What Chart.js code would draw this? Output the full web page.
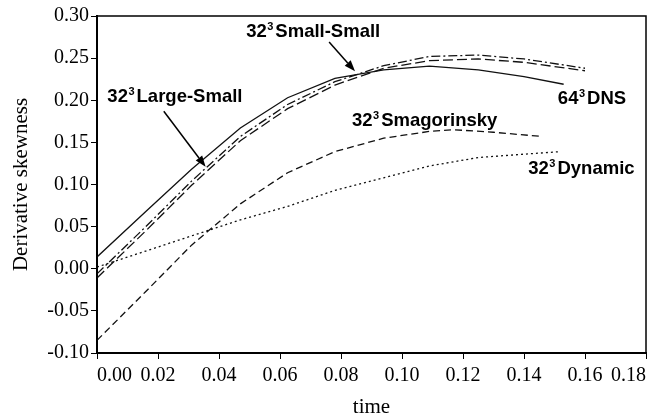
<!DOCTYPE html>
<html>
<head>
<meta charset="utf-8">
<script src="https://cdn.jsdelivr.net/npm/chart.js@4.4.0/dist/chart.umd.min.js"></script>
<style>
  html, body { margin: 0; padding: 0; background: #fff; }
</style>
</head>
<body>
<canvas id="chart" width="651" height="418"></canvas>
<script>
// === DATA ===
const dnsTime = [0, 0.016, 0.031, 0.047, 0.0625, 0.078, 0.094, 0.109, 0.125, 0.14, 0.153];
const dnsSkew = [0.014, 0.068, 0.118, 0.167, 0.203, 0.226, 0.236, 0.2405, 0.236, 0.228, 0.219];

const smallSmallTime = [0, 0.016, 0.031, 0.047, 0.0625, 0.078, 0.094, 0.109, 0.125, 0.14, 0.16];
const smallSmallSkew = [-0.006, 0.05, 0.104, 0.157, 0.195, 0.222, 0.241, 0.252, 0.2536, 0.249, 0.238];

const largeSmallTime = [0, 0.016, 0.031, 0.047, 0.0625, 0.078, 0.094, 0.109, 0.125, 0.14, 0.16];
const largeSmallSkew = [-0.011, 0.045, 0.099, 0.152, 0.19, 0.218, 0.238, 0.247, 0.249, 0.245, 0.235];

const smagTime = [0, 0.016, 0.031, 0.047, 0.0625, 0.078, 0.094, 0.109, 0.117, 0.13, 0.146];
const smagSkew = [-0.085, -0.027, 0.028, 0.077, 0.114, 0.139, 0.155, 0.163, 0.165, 0.162, 0.157];

const dynTime = [0, 0.016, 0.031, 0.047, 0.0625, 0.078, 0.094, 0.109, 0.125, 0.14, 0.152];
const dynSkew = [0.002, 0.021, 0.039, 0.058, 0.074, 0.093, 0.108, 0.122, 0.132, 0.136, 0.139];

const xTickLabels = ["0.00", "0.02", "0.04", "0.06", "0.08", "0.10", "0.12", "0.14", "0.16", "0.18"];

// === ANNOTATIONS (positions in data units) ===
const notes = [
  { base: "32", sup: "3", text: "Small-Small", t: 0.0489, v: 0.275 },
  { base: "32", sup: "3", text: "Large-Small", t: 0.0034, v: 0.1976 },
  { base: "64", sup: "3", text: "DNS", t: 0.1511, v: 0.195 },
  { base: "32", sup: "3", text: "Smagorinsky", t: 0.0836, v: 0.169 },
  { base: "32", sup: "3", text: "Dynamic", t: 0.1414, v: 0.112 }
];
const arrows = [
  { from: [0.0761, 0.269], to: [0.0846, 0.2345] },
  { from: [0.0219, 0.187], to: [0.0356, 0.121] }
];

function pts(ts, vs) {
  return ts.map((t, i) => ({ x: t, y: vs[i] }));
}

function serie(label, ts, vs, dash) {
  return {
    label,
    data: pts(ts, vs),
    borderColor: "#111",
    borderWidth: 1.3,
    borderDash: dash,
    pointRadius: 0,
    tension: 0,
    fill: false
  };
}

// === DECOR : cadre, textes, flèches ===
const decor = {
  id: "decor",
  afterDatasetsDraw(chart) {
    const { ctx, chartArea: a, scales: { x, y } } = chart;
    ctx.save();
    ctx.strokeStyle = "#000";
    ctx.lineWidth = 1.5;
    ctx.strokeRect(a.left, a.top, a.right - a.left, a.bottom - a.top);

    ctx.fillStyle = "#000";
    ctx.textBaseline = "alphabetic";
    ctx.textAlign = "left";
    const big = "bold 18.5px 'Liberation Sans', Arial, sans-serif";
    const small = "bold 11px 'Liberation Sans', Arial, sans-serif";
    notes.forEach(n => {
      let px = x.getPixelForValue(n.t);
      const py = y.getPixelForValue(n.v);
      ctx.font = big;
      ctx.fillText(n.base, px, py);
      px += ctx.measureText(n.base).width + 0.5;
      ctx.font = small;
      ctx.fillText(n.sup, px, py - 7);
      px += ctx.measureText(n.sup).width + 2;
      ctx.font = big;
      ctx.fillText(n.text, px, py);
    });

    ctx.lineWidth = 1.5;
    arrows.forEach(ar => {
      const x1 = x.getPixelForValue(ar.from[0]), y1 = y.getPixelForValue(ar.from[1]);
      const x2 = x.getPixelForValue(ar.to[0]), y2 = y.getPixelForValue(ar.to[1]);
      const ang = Math.atan2(y2 - y1, x2 - x1);
      const len = 11, w = 4;
      const bx = x2 - len * Math.cos(ang), by = y2 - len * Math.sin(ang);
      ctx.beginPath();
      ctx.moveTo(x1, y1);
      ctx.lineTo(bx, by);
      ctx.stroke();
      ctx.beginPath();
      ctx.moveTo(x2, y2);
      ctx.lineTo(bx + w * Math.sin(ang), by - w * Math.cos(ang));
      ctx.lineTo(bx - w * Math.sin(ang), by + w * Math.cos(ang));
      ctx.closePath();
      ctx.fill();
    });
    ctx.restore();
  }
};

const serif = "'Liberation Serif', 'Times New Roman', serif";

new Chart(document.getElementById("chart"), {
  type: "line",
  data: {
    datasets: [
      serie("64^3 DNS", dnsTime, dnsSkew, []),
      serie("32^3 Small-Small", smallSmallTime, smallSmallSkew, [9, 3, 2, 3]),
      serie("32^3 Large-Small", largeSmallTime, largeSmallSkew, [10, 4]),
      serie("32^3 Smagorinsky", smagTime, smagSkew, [7, 4]),
      serie("32^3 Dynamic", dynTime, dynSkew, [2, 3])
    ]
  },
  options: {
    responsive: false,
    animation: false,
    layout: { padding: { top: 16, right: 2, left: 0, bottom: 0 } },
    plugins: { legend: { display: false }, tooltip: { enabled: false } },
    scales: {
      x: {
        type: "linear",
        min: 0,
        max: 0.18,
        afterFit: s => { s.height = 65; },
        afterBuildTicks: s => { s.ticks = xTickLabels.map(l => ({ value: parseFloat(l) })); },
        border: { color: "#000", width: 2 },
        grid: { display: true, drawOnChartArea: false, drawTicks: true, tickLength: 6, color: "#000" },
        ticks: {
          align: "inner",
          maxRotation: 0,
          autoSkip: false,
          padding: 5,
          color: "#000",
          font: { family: serif, size: 20 },
          callback: (v, i) => xTickLabels[i]
        },
        title: {
          display: true,
          text: "time",
          color: "#000",
          padding: { top: 0, bottom: 0 },
          font: { family: serif, size: 21, lineHeight: 1 }
        }
      },
      y: {
        min: -0.1,
        max: 0.3,
        afterFit: s => { s.width = 97; },
        border: { color: "#000", width: 2 },
        grid: { display: true, drawOnChartArea: false, drawTicks: true, tickLength: 6, color: "#000" },
        ticks: {
          stepSize: 0.05,
          padding: 2,
          color: "#000",
          font: { family: serif, size: 20 },
          callback: v => (Math.abs(v) < 1e-9 ? "0.00" : v.toFixed(2))
        },
        title: {
          display: true,
          text: "Derivative skewness",
          color: "#000",
          padding: { top: 11, bottom: 0 },
          font: { family: serif, size: 21, lineHeight: 1 }
        }
      }
    }
  },
  plugins: [decor]
});
</script>
</body>
</html>
